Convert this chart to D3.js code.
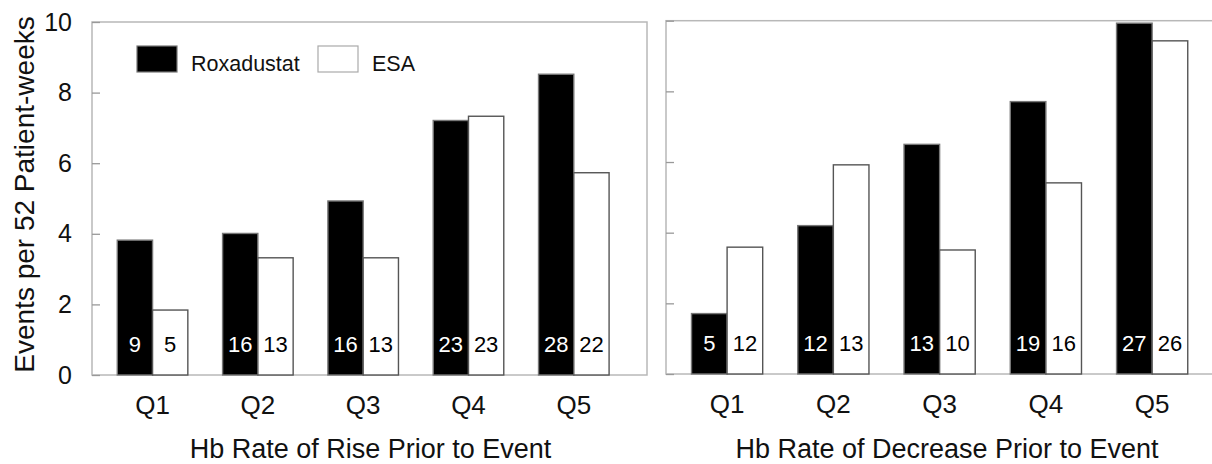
<!DOCTYPE html>
<html>
<head>
<meta charset="utf-8">
<script src="https://cdn.jsdelivr.net/npm/d3@7"></script>
<style>
  html, body { margin: 0; padding: 0; background: #fff; }
  svg { display: block; font-family: "Liberation Sans", Arial, Helvetica, sans-serif; }
</style>
</head>
<body>
<svg id="chart" width="1212" height="464"></svg>
<script>
// ---- data ----
const quintiles = ["Q1", "Q2", "Q3", "Q4", "Q5"];
const seriesNames = ["Roxadustat", "ESA"];
const yTicks = [0, 2, 4, 6, 8, 10];

const riseRoxadustat = [3.82, 4.01, 4.93, 7.21, 8.52];
const riseESA        = [1.84, 3.32, 3.32, 7.33, 5.73];
const riseRoxCounts  = [9, 16, 16, 23, 28];
const riseESACounts  = [5, 13, 13, 23, 22];

const decRoxadustat  = [1.71, 4.20, 6.50, 7.71, 9.93];
const decESA         = [3.59, 5.92, 3.51, 5.41, 9.43];
const decRoxCounts   = [5, 12, 13, 19, 27];
const decESACounts   = [12, 13, 10, 16, 26];

const panelTitles = ["Hb Rate of Rise Prior to Event", "Hb Rate of Decrease Prior to Event"];
const yTitle = "Events per 52 Patient-weeks";

// ---- layout ----
const svg = d3.select("#chart");
const panels = [
  { x0: 92, x1: 647, y0: 22, y1: 375, rox: riseRoxadustat, esa: riseESA, rc: riseRoxCounts, ec: riseESACounts, title: panelTitles[0], labels: true },
  { x0: 666, x1: 1226, y0: 20.7, y1: 374, rox: decRoxadustat, esa: decESA, rc: decRoxCounts, ec: decESACounts, title: panelTitles[1], labels: false }
];

panels.forEach(p => {
  const g = svg.append("g");
  const x = d3.scaleBand().domain(quintiles).range([p.x0, p.x1])
    .paddingInner(0.33).paddingOuter(0.3).align(0.40);
  const xs = d3.scaleBand().domain(seriesNames).range([0, x.bandwidth()]);
  const y = d3.scaleLinear().domain([0, 10]).range([p.y1, p.y0]);

  const rows = quintiles.map((q, i) => ({
    q,
    vals: [
      { s: "Roxadustat", v: p.rox[i], n: p.rc[i] },
      { s: "ESA", v: p.esa[i], n: p.ec[i] }
    ]
  }));

  // frame
  g.append("rect")
    .attr("x", p.x0).attr("y", p.y0)
    .attr("width", p.x1 - p.x0).attr("height", p.y1 - p.y0)
    .attr("fill", "none").attr("stroke", "#b8b8b8").attr("stroke-width", 1.5);

  // y axis (ticks inward)
  const yAxis = d3.axisRight(y).tickValues(yTicks).tickSize(8).tickFormat("");
  const ya = g.append("g").attr("transform", `translate(${p.x0},0)`).call(yAxis);
  ya.select(".domain").remove();
  ya.selectAll(".tick line").attr("stroke", "#999").attr("stroke-width", 1.3);

  if (p.labels) {
    const yl = d3.axisLeft(y).tickValues(yTicks).tickSize(0).tickPadding(0);
    const yla = g.append("g").attr("transform", `translate(${p.x0 - 20},0)`).call(yl);
    yla.select(".domain").remove();
    yla.selectAll(".tick text")
      .attr("font-size", 25).attr("fill", "#111")
      .attr("font-family", "'Liberation Sans', Arial, sans-serif");
  }

  // bars
  const grp = g.selectAll(".grp").data(rows).join("g")
    .attr("transform", d => `translate(${x(d.q)},0)`);
  grp.selectAll("rect").data(d => d.vals).join("rect")
    .attr("x", d => xs(d.s))
    .attr("y", d => y(d.v))
    .attr("width", xs.bandwidth())
    .attr("height", d => y(0) - y(d.v))
    .attr("fill", d => d.s === "Roxadustat" ? "#000" : "#fff")
    .attr("stroke", d => d.s === "Roxadustat" ? "#777" : "#555")
    .attr("stroke-width", 1.4);
  grp.selectAll("text").data(d => d.vals).join("text")
    .attr("x", d => xs(d.s) + xs.bandwidth() / 2)
    .attr("y", y(0) - 23)
    .attr("text-anchor", "middle")
    .attr("font-size", 22)
    .attr("fill", d => d.s === "Roxadustat" ? "#fff" : "#000")
    .text(d => d.n);

  // x category labels
  const xa = d3.axisBottom(x).tickSize(0).tickPadding(0);
  const xag = g.append("g").attr("transform", `translate(0,${p.y1 + 30})`).call(xa);
  xag.select(".domain").remove();
  xag.selectAll(".tick text").attr("font-size", 26).attr("fill", "#111")
    .attr("font-family", "'Liberation Sans', Arial, sans-serif")
    .attr("dy", "0.35em").attr("y", 0);

  // x title
  g.append("text")
    .attr("x", (p.x0 + p.x1) / 2 + 1)
    .attr("y", 458)
    .attr("text-anchor", "middle")
    .attr("font-size", 27)
    .attr("fill", "#111")
    .text(p.title);
});

// y title
svg.append("text")
  .attr("transform", `translate(34,${(22 + 375) / 2 - 4}) rotate(-90)`)
  .attr("text-anchor", "middle")
  .attr("font-size", 28)
  .attr("fill", "#111")
  .text(yTitle);

// legend
const legend = svg.append("g");
const legendItems = [
  { name: seriesNames[0], fill: "#000", stroke: "#777", x: 137, tx: 191 },
  { name: seriesNames[1], fill: "#fff", stroke: "#aaa", x: 318, tx: 372 }
];
legendItems.forEach(it => {
  legend.append("rect").attr("x", it.x).attr("y", 46).attr("width", 40).attr("height", 26)
    .attr("fill", it.fill).attr("stroke", it.stroke).attr("stroke-width", 1.2);
  legend.append("text").attr("x", it.tx).attr("y", 71)
    .attr("font-size", 21.5).attr("fill", "#111").text(it.name);
});
</script>
</body>
</html>
